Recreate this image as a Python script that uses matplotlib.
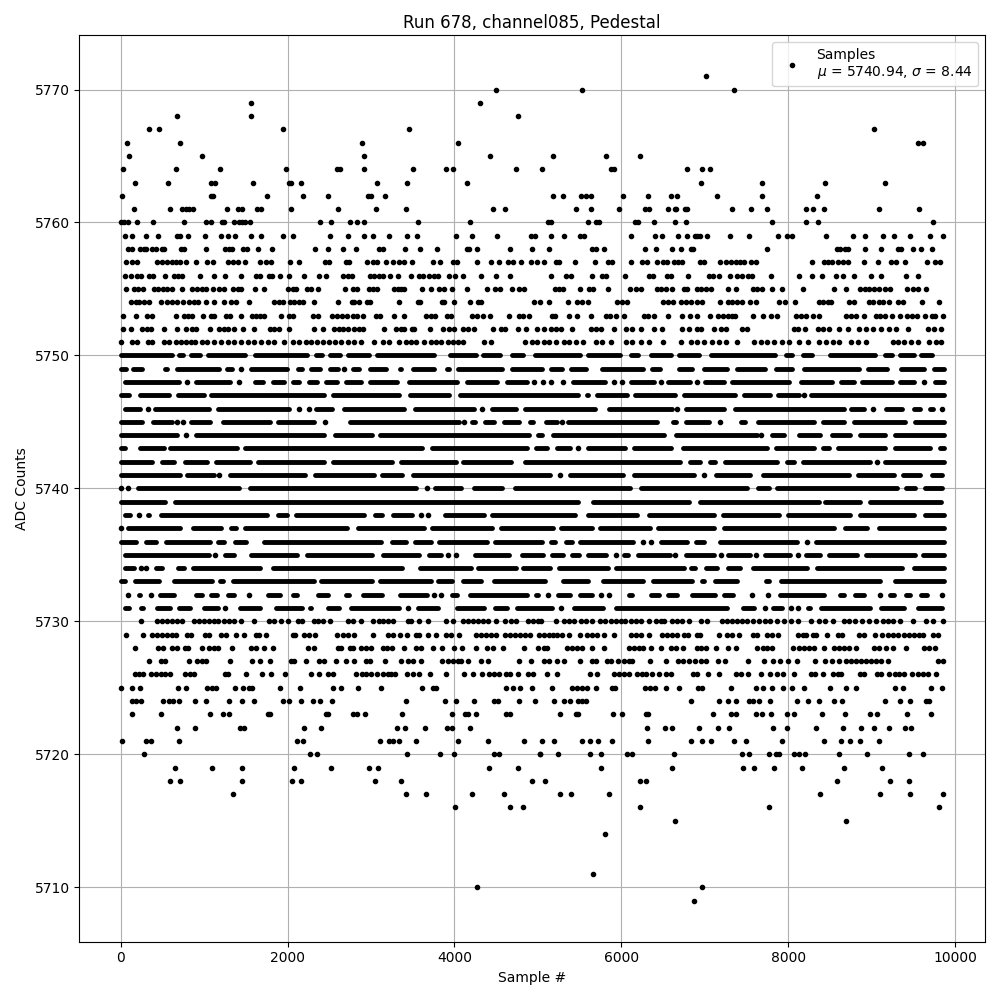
import matplotlib
matplotlib.use('Agg')
import matplotlib.pyplot as plt

# Sample numbers at each ADC level
s5771 = [7020]
s5770 = [4496, 5532, 7356]
s5769 = [1556, 4304]
s5768 = [680, 1556, 4760]
s5767 = [344, 464, 1940, 3452, 9024]
s5766 = [80, 716, 2888, 4040, 9552, 9612]
s5765 = [104, 980, 2912, 4424, 5184, 5820, 6228]
s5764 = [32, 668, 1184, 1976, 2588, 2628, 2912, 3500, 3896, 3980, 4736, 5052, 5880, 5916, 6792, 6972, 7068]
s5763 = [176, 572, 1084, 1124, 1580, 2016, 2036, 2156, 3068, 3428, 4148, 6960, 7692, 8436, 9156]
s5762 = [20, 1080, 1100, 1748, 2180, 2480, 2960, 2996, 3164, 5184, 5304, 5520, 5580, 5640, 6024, 6324, 6600, 6672, 7152, 7692, 8340]
s5761 = [164, 596, 740, 788, 820, 872, 1268, 1400, 1452, 1628, 1676, 2036, 2600, 3056, 3416, 4460, 4604, 5460, 5640, 5976, 6288, 6336, 6564, 6640, 6660, 6764, 6790, 7332, 7560, 7752, 8208, 8292, 8424, 9084, 9564]
s5760 = [4, 40, 92, 200, 392, 764, 1028, 1076, 1208, 1240, 1352, 1412, 1448, 1484, 1544, 2384, 2516, 2744, 2828, 2912, 3560, 4184, 5124, 5160, 5604, 5700, 5736, 6168, 6204, 6396, 6648, 6780, 7812, 8208, 8352, 9732]
s5759 = [56, 140, 308, 452, 680, 716, 812, 1016, 1196, 1280, 1364, 1556, 1676, 1940, 2060, 2504, 2720, 2912, 3020, 3212, 3428, 3548, 4016, 4208, 4508, 4912, 4960, 5160, 5316, 5508, 5556, 6120, 6408, 6492, 6684, 6792, 6880, 6912, 6948, 7032, 7300, 7536, 7884, 7992, 8052, 8448, 8772, 8916, 9132, 9264, 9456, 9696, 9852]
s5758 = [92, 140, 236, 284, 308, 380, 420, 500, 524, 728, 764, 1028, 1244, 1292, 1328, 1460, 1508, 1640, 1808, 2324, 2480, 2660, 2816, 3092, 3140, 3404, 3584, 3788, 4148, 4180, 4268, 4664, 4928, 5136, 5652, 5700, 5796, 6288, 6420, 6612, 6720, 6840, 6864, 7752, 8580, 8616, 8676, 8712, 8916, 9108, 9312, 9352, 9492, 9588, 9720]
s5757 = [68, 140, 200, 440, 500, 560, 620, 668, 716, 780, 908, 1040, 1100, 1280, 1340, 1400, 1484, 1664, 1740, 1800, 2024, 2132, 2444, 2500, 2700, 2740, 2948, 3020, 3068, 3176, 3260, 3340, 3400, 3488, 3740, 3828, 3980, 4028, 4268, 4436, 4532, 4640, 4700, 4796, 4920, 4992, 5072, 5220, 5252, 5448, 5688, 5844, 5892, 6120, 6252, 6312, 6432, 6504, 6552, 6636, 6684, 6732, 6948, 6996, 7188, 7252, 7312, 7372, 7420, 7472, 7552, 7612, 8280, 8424, 8472, 8520, 8592, 8652, 8712, 8904, 9072, 9232, 9292, 9396, 9660, 9756, 9816]
s5756 = [56, 128, 200, 248, 340, 388, 536, 644, 692, 740, 956, 1112, 1244, 1436, 1616, 1668, 1772, 1812, 1904, 2012, 2200, 2372, 2456, 2660, 2720, 2772, 2984, 3032, 3092, 3140, 3224, 3320, 3476, 3572, 3620, 3692, 3760, 3800, 3932, 4004, 4100, 4316, 4496, 4668, 5160, 5340, 5400, 5652, 5772, 5820, 6044, 6336, 6384, 6552, 6600, 6804, 7056, 7104, 7176, 7308, 7392, 7452, 7520, 7568, 7800, 8132, 8280, 8400, 8568, 8652, 8784, 8988, 9108, 9408, 9552]
s5755 = [68, 164, 212, 272, 404, 452, 508, 560, 620, 740, 860, 920, 980, 1020, 1100, 1180, 1240, 1340, 1400, 1440, 1604, 1712, 2000, 2060, 2100, 2228, 2280, 2360, 2684, 2780, 2828, 2972, 3020, 3068, 3272, 3320, 3360, 3400, 3608, 3716, 3812, 3880, 3968, 4148, 4388, 4484, 4544, 4688, 4772, 4828, 5204, 5252, 5300, 5508, 5616, 5664, 5836, 6104, 6180, 6236, 6432, 6480, 6532, 6612, 6756, 6792, 6912, 6960, 7020, 7072, 7284, 7380, 7580, 7628, 7692, 7812, 7928, 8172, 8544, 8692, 8856, 8916, 8964, 9032, 9092, 9164, 9220, 9420, 9492, 9552, 9648]
s5754 = [128, 180, 220, 280, 340, 488, 560, 620, 680, 748, 820, 880, 932, 1028, 1116, 1232, 1316, 1376, 1532, 1840, 1900, 1940, 2028, 2080, 2132, 2188, 2312, 2600, 2768, 2800, 2852, 2948, 2988, 3332, 3560, 3592, 3848, 3872, 3996, 4184, 4280, 4320, 4952, 5024, 5132, 5364, 5472, 5532, 5604, 5952, 6012, 6072, 6504, 6564, 6620, 6720, 6772, 6832, 6912, 6972, 7188, 7284, 7332, 7392, 7452, 7544, 7620, 7896, 7968, 8084, 8364, 8412, 8472, 8512, 8732, 8792, 8964, 9012, 9084, 9132, 9204, 9312, 9372, 9600, 9808]
s5753 = [28, 188, 320, 372, 668, 760, 812, 852, 992, 1080, 1120, 1260, 1308, 1436, 1572, 1620, 1668, 1720, 1916, 2012, 2068, 2300, 2360, 2528, 2588, 2648, 2708, 2780, 2828, 2900, 3060, 3108, 3272, 3392, 3660, 3720, 3772, 3908, 3960, 4212, 4272, 4340, 4424, 4656, 4772, 4820, 4892, 5172, 5204, 5376, 5472, 5640, 5820, 5868, 5940, 6032, 6272, 6324, 6396, 6564, 6732, 6828, 6912, 7068, 7164, 7220, 7276, 7332, 7364, 7584, 7704, 7800, 7872, 8092, 8152, 8212, 8292, 8372, 8692, 8752, 8812, 8904, 9052, 9100, 9156, 9240, 9336, 9420, 9480, 9540, 9640, 9720, 9760, 9852]
s5752 = [28, 128, 252, 320, 360, 524, 680, 788, 852, 900, 1068, 1180, 1240, 1280, 1352, 1460, 1600, 1788, 1840, 1900, 2012, 2312, 2428, 2560, 2612, 2660, 2720, 2800, 2860, 2900, 3152, 3300, 3360, 3400, 3488, 3520, 3704, 3860, 3940, 4000, 4100, 4160, 4240, 4460, 4560, 4600, 4760, 4860, 4992, 5072, 5152, 5212, 5280, 5412, 5632, 5692, 5752, 5916, 6052, 6132, 6232, 6392, 6492, 6732, 6812, 6912, 6952, 7112, 7192, 7252, 7452, 7512, 8072, 8112, 8204, 8352, 8412, 8492, 8604, 8712, 8852, 8932, 9012, 9112, 9212, 9292, 9432, 9672, 9752, 9832]
s5751 = [4, 140, 200, 332, 380, 520, 580, 668, 720, 788, 840, 888, 980, 1040, 1120, 1200, 1280, 1360, 1440, 1520, 1592, 1680, 1760, 1840, 1952, 2060, 2140, 2220, 2280, 2352, 2428, 2500, 2572, 2640, 2720, 2800, 2880, 3040, 3140, 3220, 3332, 3420, 3480, 3540, 3640, 3720, 3780, 3840, 3920, 3980, 4040, 4100, 4360, 4440, 4840, 4932, 4992, 5072, 5132, 5212, 5312, 5372, 5452, 5544, 5692, 5772, 5872, 6052, 6132, 6232, 6332, 6500, 6712, 6832, 6912, 6992, 7092, 7172, 7252, 7392, 7592, 7672, 7752, 7832, 7932, 8012, 8124, 8240, 8364, 8452, 8532, 8612, 8752, 8832, 8932, 9252, 9312, 9392, 9472, 9552, 9692, 9772, 9832]
s5750 = []
s5749 = [1436, 2672]
s5748 = [800, 1412, 4952, 5060, 5152, 5304, 5912, 6004, 6472, 6904, 9628]
s5747 = [8192]
s5746 = [328, 2140, 2252, 4328, 6672, 9012, 9844]
s5745 = [680, 752, 2448, 4112, 5292, 7184]
s5744 = [788, 7680]
s5743 = [5484]
s5742 = [9064]
s5741 = [1180, 5260, 6992]
s5740 = [0, 92, 3668]
s5739 = []
s5738 = [220, 3600, 3680]
s5737 = [0]
s5736 = [6264, 6356, 8220]
s5735 = [1132, 3920, 4020, 5940, 6644, 7192, 7612, 8112]
s5734 = [240, 308]
s5733 = []
s5732 = [92, 360, 1532, 3752, 3840, 5124, 5752, 5852, 7572, 7764, 9104, 9844]
s5731 = [1252, 3440, 5272, 7724, 8032, 8112]
s5730 = [248, 440, 500, 560, 620, 680, 740, 880, 940, 1000, 1060, 1120, 1160, 1240, 1292, 1352, 1436, 1592, 1772, 1840, 1920, 2000, 2120, 2172, 2312, 2360, 2420, 2504, 2720, 2780, 2880, 3020, 3092, 3140, 3200, 3260, 3440, 3480, 3572, 3680, 3900, 3980, 4100, 4160, 4220, 4280, 4340, 4400, 4500, 4608, 4680, 4740, 4880, 4940, 5000, 5032, 5220, 5312, 5372, 5432, 5520, 5572, 5652, 5740, 5804, 5872, 5932, 5992, 6044, 6112, 6172, 6232, 6332, 6412, 6472, 6512, 6604, 6672, 6732, 6812, 6952, 7032, 7212, 7272, 7332, 7392, 7452, 7512, 7580, 7652, 7724, 7780, 7872, 7952, 8032, 8112, 8268, 8364, 8440, 8532, 8672, 8732, 8804, 8880, 8964, 9052, 9132, 9192, 9252, 9340, 9492, 9652, 9732, 9852]
s5729 = [68, 272, 380, 440, 500, 560, 620, 668, 800, 848, 1012, 1060, 1200, 1260, 1376, 1472, 1620, 1660, 1736, 2060, 2092, 2200, 2260, 2332, 2588, 2660, 2720, 2800, 3020, 3200, 3260, 3344, 3428, 3540, 3572, 3680, 3776, 3900, 3956, 4052, 4260, 4320, 4380, 4440, 4500, 4600, 4660, 4720, 4780, 4840, 4900, 5012, 5072, 5132, 5180, 5232, 5292, 5372, 5508, 5592, 5652, 5712, 5796, 5916, 6112, 6172, 6232, 6336, 6492, 6552, 6612, 6672, 6752, 6804, 6912, 6944, 7172, 7272, 7332, 7412, 7580, 7632, 7752, 7812, 7884, 8112, 8172, 8212, 8292, 8332, 8460, 8592, 8644, 8852, 8912, 9036, 9120, 9192, 9252, 9312, 9392, 9452, 9512, 9572, 9612, 9740, 9792]
s5728 = [176, 452, 508, 620, 680, 772, 812, 980, 1060, 1120, 1160, 1328, 1560, 1620, 1712, 1820, 2240, 2320, 2600, 2640, 2748, 2780, 2880, 2940, 3000, 3140, 3188, 3252, 3392, 3540, 3600, 3748, 3848, 3992, 4088, 4256, 4388, 4460, 4580, 4832, 5000, 5072, 5112, 5352, 5412, 5472, 5532, 5652, 5796, 6092, 6152, 6212, 6264, 6360, 6480, 6592, 6660, 6744, 6912, 6952, 7020, 7140, 7284, 7372, 7632, 7704, 7752, 7812, 8064, 8124, 8192, 8252, 8312, 8424, 8552, 8612, 8672, 8732, 8812, 9032, 9092, 9172, 9252, 9408, 9632, 9692, 9760]
s5727 = [344, 488, 528, 824, 920, 972, 1020, 1304, 1568, 1664, 1784, 2040, 2080, 2220, 2372, 2440, 2576, 2696, 2792, 2940, 2988, 3168, 3356, 3440, 3500, 3600, 3848, 3920, 3980, 4040, 4080, 4164, 4316, 4400, 4772, 4916, 5072, 5132, 5232, 5316, 5508, 5652, 5692, 5832, 5872, 5964, 6032, 6092, 6132, 6348, 6540, 6680, 6740, 6812, 6880, 6952, 7020, 7164, 7248, 7524, 7716, 7824, 7908, 8000, 8100, 8316, 8436, 8520, 8604, 8692, 8752, 8812, 8872, 8932, 8992, 9052, 9112, 9192, 9792, 9852]
s5726 = [172, 220, 268, 360, 420, 480, 532, 588, 772, 828, 880, 1244, 1288, 1504, 1688, 1796, 1964, 2276, 2372, 2480, 2540, 2816, 2888, 2940, 3000, 3068, 3140, 3200, 3240, 3292, 3428, 3500, 3572, 3704, 3896, 4112, 4220, 4328, 4420, 4480, 4540, 4620, 4660, 4760, 4880, 4940, 5112, 5232, 5628, 5712, 5912, 5972, 6032, 6092, 6192, 6252, 6292, 6372, 6452, 6532, 6592, 6864, 6912, 7044, 7176, 7380, 7440, 7524, 7680, 7788, 7872, 7944, 8076, 8268, 8324, 8416, 8532, 8592, 8632, 8860, 8904, 9060, 9112, 9204, 9284, 9332, 9392, 9480, 9552, 9612, 9680, 9768]
s5725 = [0, 140, 236, 692, 780, 1040, 1092, 1140, 1364, 1460, 1532, 1572, 1912, 2144, 2540, 2636, 2840, 3116, 3608, 3740, 3780, 4616, 4700, 4784, 4928, 5172, 5412, 5472, 5532, 5592, 5700, 5884, 5924, 6284, 6340, 6408, 6540, 6696, 6924, 6972, 7320, 7620, 7704, 7812, 7944, 8052, 8184, 8496, 8688, 8808, 9276, 9372, 9708, 9844]
s5724 = [140, 188, 248, 508, 580, 628, 704, 888, 1028, 1292, 1448, 1592, 1940, 2020, 2156, 2300, 2384, 2528, 3416, 3884, 4016, 4232, 4480, 4528, 4772, 4964, 5192, 5316, 5388, 5484, 5532, 5580, 6840, 7172, 7284, 7380, 7532, 7580, 7656, 7788, 8100, 8232, 8364, 8544, 8640, 9156, 9344, 9456, 9652, 9684]
s5723 = [140, 488, 1064, 1220, 1292, 1760, 1788, 2460, 2480, 2780, 2828, 2924, 3368, 3968, 4128, 4160, 4256, 4620, 4668, 5268, 5452, 5476, 5904, 6012, 6292, 6324, 7104, 7312, 7372, 7620, 7692, 7800, 7992, 8076, 8400, 8676, 8976, 9060, 9424, 9708]
s5722 = [680, 896, 1424, 1472, 2192, 2396, 3308, 3404, 3644, 3908, 3968, 4184, 6312, 6528, 6612, 6936, 7164, 7296, 7824, 7992, 8328, 8652, 8868, 9024, 9204, 9396, 9468]
s5721 = [20, 308, 368, 704, 2108, 2180, 3104, 3212, 3260, 3332, 3536, 4040, 4400, 4832, 5052, 5196, 5532, 5628, 5720, 5892, 6324, 6840, 6972, 7080, 7356, 7500, 7932, 8424, 8628, 8736, 8856, 9084]
s5720 = [284, 2272, 2348, 3428, 3824, 3992, 4472, 4532, 5020, 5028, 5244, 5628, 5760, 6072, 6132, 6628, 7452, 7536, 7776, 7852, 7892, 8076, 8132, 8204, 8604, 8940, 9444, 9612]
s5719 = [656, 1088, 1448, 2072, 2516, 2972, 3080, 4412, 4760, 5760, 6612, 7464, 7596, 7836, 8160, 8664, 9120]
s5718 = [596, 716, 1448, 2048, 2156, 3044, 3356, 4928, 5088, 6228, 6292, 8580, 9216, 9444]
s5717 = [1340, 3416, 3656, 4208, 4592, 5268, 5400, 5856, 8376, 9096, 9456, 9852]
s5716 = [4004, 4664, 4820, 6228, 7776, 9804]
s5715 = [6648, 8688]
s5714 = [5808]
s5711 = [5664]
s5710 = [4268, 6972]
s5709 = [6876]

# Where the dots overlap into a solid stretch: first and last sample of each stretch, read edge to edge
r5750 = [(-28, 640), (668, 772), (812, 972), (1020, 1520), (1580, 2260), (2312, 2440), (2480, 2660), (2700, 3000), (3040, 3780), (3920, 4280), (4320, 4570), (4668, 4850), (4940, 5532), (5580, 6012), (6092, 6232), (6324, 6620), (6660, 6952), (7044, 7872), (7952, 8072), (8152, 8312), (8480, 9072), (9132, 9272), (9312, 9532), (9564, 9752)]
r5749 = [(-28, 90), (120, 280), (500, 580), (652, 1200), (1252, 1360), (1532, 2020), (2100, 2200), (2260, 2420), (2480, 2628), (2760, 2880), (2960, 3200), (3320, 3388), (3480, 3780), (3880, 3960), (4020, 4600), (4660, 5072), (5132, 5312), (5372, 5604), (5744, 6292), (6340, 6484), (6660, 6872), (6964, 7292), (7364, 7752), (7824, 8072), (8164, 8872), (8932, 9212), (9332, 9652), (9724, 9892)]
r5748 = [(28, 720), (880, 1340), (1580, 1732), (1800, 1988), (2040, 2160), (2228, 2380), (2440, 2620), (2680, 2900), (2960, 3340), (3428, 4060), (4120, 4540), (4600, 4900), (5392, 5832), (6092, 6412), (6532, 6852), (6972, 7252), (7304, 8032), (8132, 8552), (8604, 8812), (8860, 9272), (9312, 9532), (9740, 9892)]
r5747 = [(-28, 120), (200, 600), (660, 1020), (1060, 2460), (2520, 3360), (3440, 3960), (4040, 5512), (5560, 5632), (5680, 6092), (6140, 6672), (6724, 7392), (7440, 7812), (7852, 8152), (8244, 9892)]
r5746 = [(20, 260), (380, 1080), (1140, 2040), (2320, 2560), (2652, 3420), (3500, 4260), (4428, 4760), (4820, 5712), (5824, 6632), (6752, 7252), (7332, 8692), (8732, 8932), (9152, 9392), (9484, 9612), (9680, 9760)]
r5745 = [(-28, 280), (360, 640), (820, 1092), (1200, 1820), (1860, 2340), (2720, 4080), (4190, 4270), (4340, 4500), (4572, 4800), (4880, 4972), (5072, 5252), (5332, 6452), (6590, 6680), (6752, 7072), (7404, 7512), (7612, 8332), (8392, 8692), (8764, 9432), (9492, 9892)]
r5744 = [(-28, 700), (880, 2460), (2540, 3040), (3080, 4920), (4972, 5072), (5152, 6532), (6632, 7652), (7780, 7972), (8104, 8412), (8500, 8772), (8832, 9192), (9252, 9892)]
r5743 = [(-28, 80), (200, 540), (560, 1420), (1468, 3640), (3700, 4900), (4952, 5132), (5204, 5412), (5572, 6072), (6132, 6620), (6712, 7772), (7832, 8332), (8392, 8512), (8572, 9192), (9260, 9732), (9790, 9892)]
r5742 = [(-28, 400), (468, 660), (740, 1060), (1120, 1580), (1620, 2460), (2520, 3280), (3328, 4040), (4080, 4700), (4820, 6732), (6792, 6972), (7040, 7152), (7212, 7892), (7964, 8092), (8152, 9012), (9132, 9892)]
r5741 = [(-28, 740), (772, 1140), (1280, 2240), (2300, 3060), (3100, 3400), (3480, 5172), (5364, 6052), (6124, 6892), (7104, 7572), (7672, 8752), (8812, 9292), (9352, 9612), (9700, 9874)]
r5740 = [(180, 1440), (1520, 3560), (3740, 4100), (4212, 4600), (4700, 6132), (6212, 7532), (7612, 7792), (7844, 9332), (9392, 9552), (9620, 9874)]
r5739 = [(-28, 560), (628, 5512), (5632, 6840), (6920, 8392), (8420, 8892), (8952, 9860)]
r5738 = [(28, 140), (300, 370), (460, 1780), (1860, 2020), (2080, 2940), (3020, 3160), (3240, 3520), (3860, 4380), (4428, 5472), (5580, 6212), (6300, 7132), (7192, 7912), (7972, 8772), (8832, 9532), (9612, 9892)]
r5737 = [(60, 740), (840, 1228), (1292, 1412), (1460, 2740), (2812, 3660), (3700, 4480), (4528, 5212), (5252, 5672), (5724, 6372), (6412, 7132), (7204, 8572), (8652, 8972), (9060, 9892)]
r5736 = [(-28, 212), (272, 452), (512, 1100), (1140, 1268), (1340, 1532), (1688, 3140), (3220, 3440), (3500, 3740), (3788, 4420), (4460, 5072), (5132, 5232), (5312, 5432), (5484, 6172), (6444, 6812), (6872, 7012), (7152, 8132), (8312, 9892)]
r5735 = [(20, 1080), (1220, 1380), (1532, 2140), (2212, 3040), (3120, 3600), (3672, 3860), (4220, 4680), (4780, 5092), (5140, 5332), (5380, 5524), (5580, 5844), (6012, 6112), (6180, 6612), (6752, 7132), (7252, 7572), (7692, 8052), (8192, 8412), (8460, 8852), (8912, 9552), (9592, 9892)]
r5734 = [(28, 180), (400, 520), (660, 780), (840, 1700), (1800, 3400), (3560, 4220), (4260, 4760), (4800, 5172), (5232, 5872), (5912, 6772), (6812, 6912), (6992, 7172), (7252, 7452), (7552, 8252), (8324, 9392), (9484, 9892)]
r5733 = [(-28, 80), (140, 480), (612, 1120), (1168, 1252), (1320, 2340), (2380, 3040), (3080, 3740), (3780, 4000), (4080, 4340), (4452, 5112), (5272, 5632), (5752, 6292), (6352, 6872), (6945, 7020), (7092, 7412), (7712, 7792), (7884, 9132), (9252, 9892)]
r5732 = [(188, 260), (448, 660), (880, 1000), (1060, 1180), (1260, 1380), (1740, 1940), (2040, 2140), (2340, 2508), (2680, 2760), (2880, 3160), (3320, 3700), (3940, 4060), (4160, 4900), (4952, 5032), (5220, 5412), (5484, 5672), (6064, 6152), (6324, 6472), (6532, 6692), (6820, 7152), (7204, 7360), (7872, 8452), (8592, 8692), (8780, 8940), (9192, 9292), (9392, 9492), (9572, 9692)]
r5731 = [(28, 120), (215, 290), (412, 620), (668, 860), (972, 1188), (1400, 1700), (1840, 2200), (2240, 2308), (2460, 2640), (2740, 3360), (3540, 3828), (4000, 4380), (4460, 4660), (4720, 5192), (5412, 5812), (5912, 7292), (7432, 7612), (7792, 7952), (8212, 8292), (8372, 9012), (9092, 9412), (9532, 9870)]

levels = [5771, 5770, 5769, 5768, 5767, 5766, 5765, 5764, 5763, 5762, 5761, 5760, 5759, 5758, 5757, 5756,
          5755, 5754, 5753, 5752, 5751, 5750, 5749, 5748, 5747, 5746, 5745, 5744, 5743, 5742, 5741, 5740,
          5739, 5738, 5737, 5736, 5735, 5734, 5733, 5732, 5731, 5730, 5729, 5728, 5727, 5726, 5725, 5724,
          5723, 5722, 5721, 5720, 5719, 5718, 5717, 5716, 5715, 5714, 5711, 5710, 5709]
rows = [s5771, s5770, s5769, s5768, s5767, s5766, s5765, s5764, s5763, s5762, s5761, s5760, s5759, s5758, s5757, s5756,
        s5755, s5754, s5753, s5752, s5751, s5750, s5749, s5748, s5747, s5746, s5745, s5744, s5743, s5742, s5741, s5740,
        s5739, s5738, s5737, s5736, s5735, s5734, s5733, s5732, s5731, s5730, s5729, s5728, s5727, s5726, s5725, s5724,
        s5723, s5722, s5721, s5720, s5719, s5718, s5717, s5716, s5715, s5714, s5711, s5710, s5709]
run_levels = [5750, 5749, 5748, 5747, 5746, 5745, 5744, 5743, 5742, 5741,
              5740, 5739, 5738, 5737, 5736, 5735, 5734, 5733, 5732, 5731]
run_rows = [r5750, r5749, r5748, r5747, r5746, r5745, r5744, r5743, r5742, r5741,
            r5740, r5739, r5738, r5737, r5736, r5735, r5734, r5733, r5732, r5731]

x = []
y = []
for level, row in zip(levels, rows):
    x.extend(row)
    y.extend([level] * len(row))

fig, ax = plt.subplots(figsize=(10, 10))
ax.plot(x, y, 'k.', label='Samples\n$\\mu$ = 5740.94, $\\sigma$ = 8.44')

# stretches are a little thinner than a dot, the round end adds half their width
half_dot = 26
for level, row in zip(run_levels, run_rows):
    for first, last in row:
        ax.hlines(level, first + half_dot, last - half_dot, colors='k', linewidth=3.5, capstyle='round')

ax.set_title('Run 678, channel085, Pedestal', pad=5)
ax.set_xlabel('Sample #')
ax.set_ylabel('ADC Counts')
ax.grid(True)
ax.legend(loc='upper right')
fig.tight_layout()
fig.subplots_adjust(top=0.965)
fig.savefig('out.png', dpi=100)
